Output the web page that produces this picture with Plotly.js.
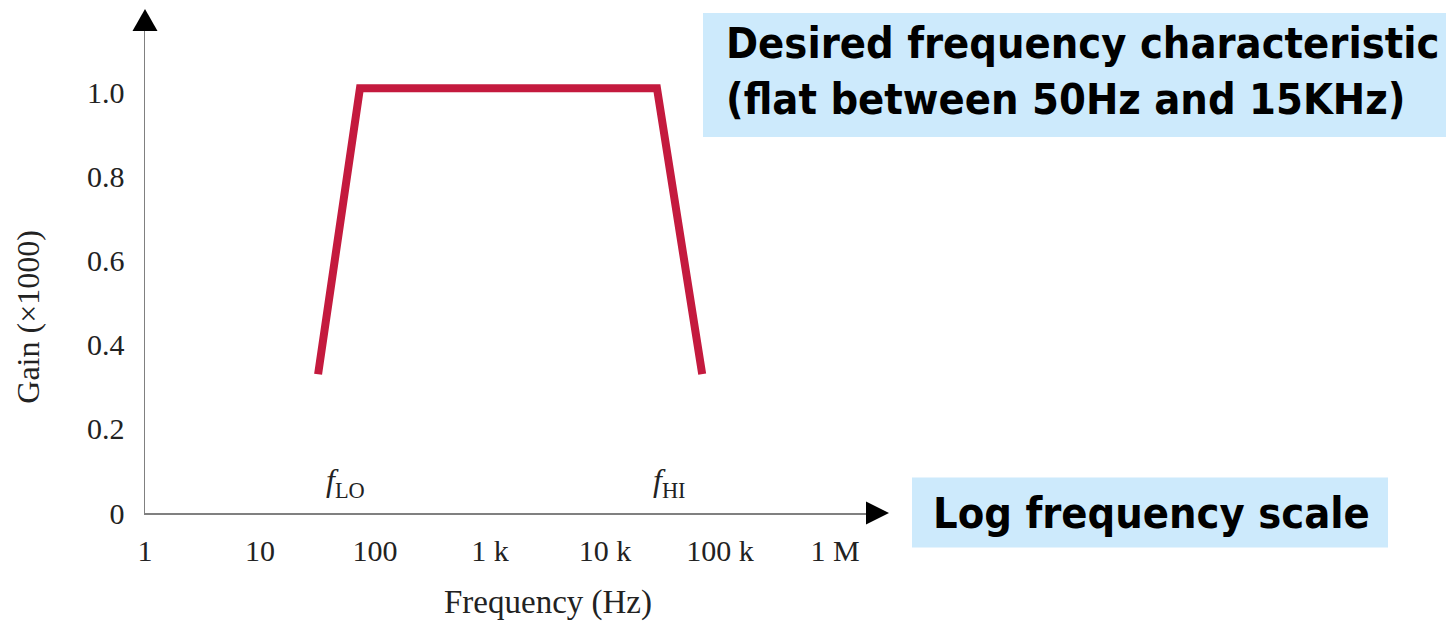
<!DOCTYPE html>
<html>
<head>
<meta charset="utf-8">
<script src="https://cdn.plot.ly/plotly-3.0.1.min.js"></script>
<style>
  html, body { margin: 0; padding: 0; background: #ffffff; }
  #chart { width: 1446px; height: 622px; }
</style>
</head>
<body>
<div id="chart"></div>
<script>
// ---- data ----
const freqHz = [32, 74, 28300, 70000];
const gain = [0.33, 1.01, 1.01, 0.33];
const xTickVals = [1, 10, 100, 1000, 10000, 100000, 1000000];
const xTickText = ['1', '10', '100', '1 k', '10 k', '100 k', '1 M'];
const yTickVals = [0, 0.2, 0.4, 0.6, 0.8, 1.0];
const yTickText = ['0', '0.2', '0.4', '0.6', '0.8', '1.0'];
const cornerLabels = ['<i>f</i><sub>LO</sub>', '<i>f</i><sub>HI</sub>'];
const xTitle = 'Frequency (Hz)';
const yTitle = 'Gain (×1000)';
const boxTextTop = 'Desired frequency characteristic<br>(flat between 50Hz and 15KHz)';
const boxTextBottom = 'Log frequency scale';

// ---- layout geometry (pixels) ----
const W = 1446, H = 622;
const L = 145, R = 868, T = 30, B = 513.5;
const pw = R - L, ph = B - T;
const px = x => (x - L) / pw;       // pixel -> paper x
const py = y => (B - y) / ph;       // pixel -> paper y

const serif = '"Liberation Serif", "Times New Roman", serif';
const boxFont = '"DejaVu Sans Condensed", "DejaVu Sans", sans-serif';
const boxColor = '#cdeafc';
const textColor = '#222222';

const trace = {
  x: freqHz,
  y: gain,
  type: 'scatter',
  mode: 'lines',
  line: { color: '#c41a3e', width: 8 },
  hoverinfo: 'skip',
  showlegend: false
};

const layout = {
  width: W,
  height: H,
  margin: { l: L, r: W - R, t: T, b: H - B },
  paper_bgcolor: '#ffffff',
  plot_bgcolor: '#ffffff',
  showlegend: false,
  xaxis: {
    type: 'log',
    range: [0, (R - L) / 115],
    tickvals: xTickVals,
    ticktext: xTickText,
    showline: true,
    linecolor: '#808080',
    linewidth: 1.5,
    showgrid: false,
    zeroline: false,
    ticks: '',
    ticklabelstandoff: 10,
    tickfont: { family: serif, size: 30, color: textColor },
    automargin: false,
    fixedrange: true
  },
  yaxis: {
    range: [0, ph / 421],
    tickvals: yTickVals,
    ticktext: yTickText,
    showline: true,
    linecolor: '#808080',
    linewidth: 1.5,
    showgrid: false,
    zeroline: false,
    ticks: '',
    ticklabelstandoff: 13,
    tickfont: { family: serif, size: 30, color: textColor },
    automargin: false,
    fixedrange: true
  },
  shapes: [
    // x-axis arrowhead
    { type: 'path', xref: 'paper', yref: 'paper',
      path: `M ${px(866)} ${py(502)} L ${px(889)} ${py(513.5)} L ${px(866)} ${py(525)} Z`,
      fillcolor: '#000000', line: { width: 0 } },
    // y-axis arrowhead
    { type: 'path', xref: 'paper', yref: 'paper',
      path: `M ${px(132.5)} ${py(31)} L ${px(145)} ${py(9)} L ${px(157.5)} ${py(31)} Z`,
      fillcolor: '#000000', line: { width: 0 } },
    // callout boxes
    { type: 'rect', xref: 'paper', yref: 'paper', layer: 'below',
      x0: px(703), x1: px(1446), y0: py(137), y1: py(13),
      fillcolor: boxColor, line: { width: 0 } },
    { type: 'rect', xref: 'paper', yref: 'paper', layer: 'below',
      x0: px(912), x1: px(1388), y0: py(548), y1: py(478),
      fillcolor: boxColor, line: { width: 0 } }
  ],
  annotations: [
    // axis titles
    { xref: 'paper', yref: 'paper', x: px(548), y: py(603), text: xTitle,
      showarrow: false, xanchor: 'center', yanchor: 'middle',
      font: { family: serif, size: 33, color: textColor } },
    { xref: 'paper', yref: 'paper', x: px(28), y: py(317), text: yTitle,
      showarrow: false, xanchor: 'center', yanchor: 'middle', textangle: -90,
      font: { family: serif, size: 32, color: textColor } },
    // corner labels
    { xref: 'paper', yref: 'paper', x: px(345), y: py(483), text: cornerLabels[0],
      showarrow: false, xanchor: 'center', yanchor: 'middle',
      font: { family: serif, size: 32, color: textColor } },
    { xref: 'paper', yref: 'paper', x: px(669), y: py(483), text: cornerLabels[1],
      showarrow: false, xanchor: 'center', yanchor: 'middle',
      font: { family: serif, size: 32, color: textColor } },
    // callout texts
    { xref: 'paper', yref: 'paper', x: px(724), y: py(71), text: boxTextTop,
      showarrow: false, xanchor: 'left', yanchor: 'middle', align: 'left',
      font: { family: boxFont, size: 43, color: '#000000', weight: 'bold' } },
    { xref: 'paper', yref: 'paper', x: px(931), y: py(514), text: boxTextBottom,
      showarrow: false, xanchor: 'left', yanchor: 'middle', align: 'left',
      font: { family: boxFont, size: 43, color: '#000000', weight: 'bold' } }
  ]
};

Plotly.newPlot('chart', [trace], layout, { displayModeBar: false, staticPlot: true });
</script>
</body>
</html>
